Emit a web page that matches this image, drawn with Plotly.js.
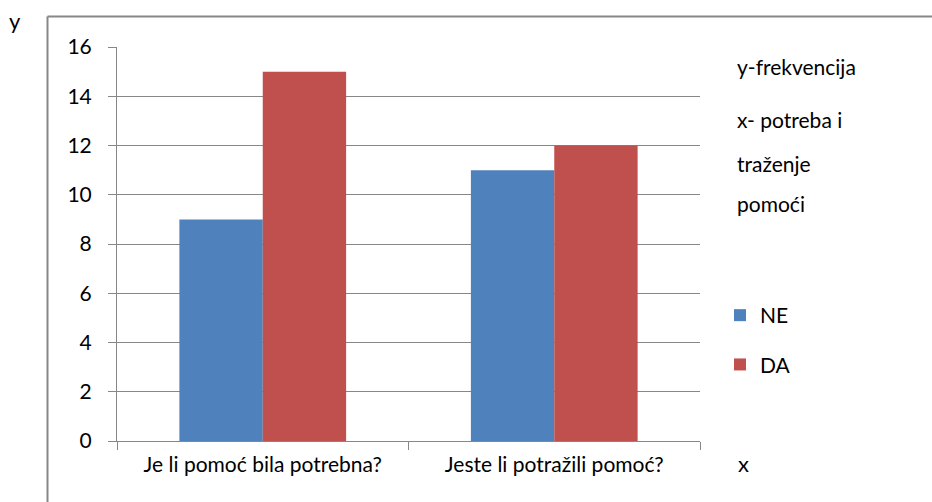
<!DOCTYPE html>
<html>
<head>
<meta charset="utf-8">
<script src="https://cdn.plot.ly/plotly-3.0.1.min.js"></script>
<style>html,body{margin:0;padding:0;background:#fff;}#chart{width:932px;height:502px;}</style>
</head>
<body>
<div id="chart"></div>
<script>
const categories = ["Je li pomoć bila potrebna?", "Jeste li potražili pomoć?"];
const seriesNames = ["NE", "DA"];
const valuesNE = [9, 11];
const valuesDA = [15, 12];
const yTicks = [0, 2, 4, 6, 8, 10, 12, 14, 16];
const sideNotes = ["y-frekvencija", "x- potreba i", "traženje", "pomoći"];

const L = 117, R = 700, T = 47, B = 441, W = 932, H = 502;
const px = x => (x - L) / (R - L);
const py = y => (B - y) / (B - T);
const FONT = "Lato, 'Open Sans', sans-serif";
const FS = 21;
const GRID = "#878787";

const traces = [
  {type: "bar", name: seriesNames[0], x: categories, y: valuesNE, marker: {color: "#4F81BD"}, legendgroup: "a"},
  {type: "bar", name: seriesNames[1], x: categories, y: valuesDA, marker: {color: "#C0504D"}, legendgroup: "b"}
];

const noteY = [66, 120, 163, 203];
const annotations = sideNotes.map((t, i) => ({
  text: t, xref: "paper", yref: "paper", x: px(735), y: py(noteY[i]),
  xanchor: "left", yanchor: "middle", showarrow: false, font: {size: FS, color: "#000", family: FONT}
}));
annotations.push({text: "y", xref: "paper", yref: "paper", x: px(15), y: py(20), xanchor: "center", yanchor: "middle", showarrow: false, font: {size: 22, color: "#000", family: FONT}});
annotations.push({text: "x", xref: "paper", yref: "paper", x: px(743), y: py(463), xanchor: "center", yanchor: "middle", showarrow: false, font: {size: 22, color: "#000", family: FONT}});

const layout = {
  width: W, height: H,
  margin: {l: L, r: W - R, t: T, b: H - B, pad: 0},
  paper_bgcolor: "#fff", plot_bgcolor: "#fff",
  font: {family: FONT, size: FS, color: "#000"},
  barmode: "group", bargap: 0.428, bargroupgap: 0,
  showlegend: true,
  legend: {x: px(720), y: py(295), xanchor: "left", yanchor: "top", traceorder: "grouped", tracegroupgap: 19,
           font: {size: FS, family: FONT, color: "#000"}, itemwidth: 30, bgcolor: "rgba(0,0,0,0)"},
  xaxis: {type: "category", tickson: "boundaries", ticks: "outside", ticklen: 8, tickcolor: GRID, tickwidth: 1,
          showline: true, linecolor: GRID, linewidth: 1, showgrid: false, zeroline: false,
          ticklabelstandoff: 5, tickfont: {size: FS}},
  yaxis: {range: [0, 16], tickvals: yTicks, ticktext: yTicks.map(String), ticks: "outside", ticklen: 8,
          tickcolor: GRID, tickwidth: 1, showline: true, linecolor: GRID, linewidth: 1,
          showgrid: true, gridcolor: GRID, gridwidth: 1, zeroline: false, ticklabelstandoff: 12, tickfont: {size: FS}},
  shapes: [
    {type: "line", xref: "paper", yref: "paper", x0: px(47.5), y0: py(16.5), x1: px(932), y1: py(16.5), line: {color: GRID, width: 2}},
    {type: "line", xref: "paper", yref: "paper", x0: px(47.5), y0: py(16.5), x1: px(47.5), y1: py(502), line: {color: GRID, width: 2}}
  ],
  annotations: annotations
};

Plotly.newPlot("chart", traces, layout, {displayModeBar: false, staticPlot: true});
</script>
</body>
</html>
